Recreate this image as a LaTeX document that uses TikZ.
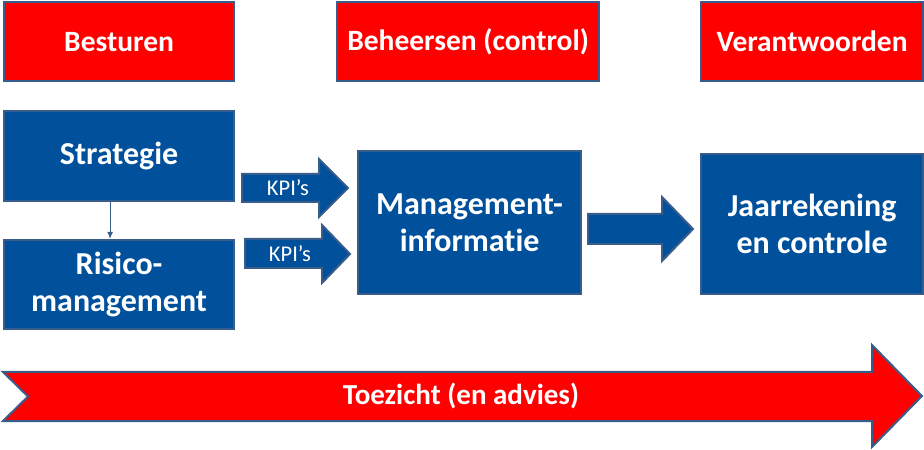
\documentclass[tikz,border=0pt]{standalone}
\usepackage{fontspec}
\setmainfont{Carlito}[Ligatures=NoCommon]
\usetikzlibrary{arrows.meta}
\definecolor{redbox}{RGB}{255,0,0}
\definecolor{bluebox}{RGB}{0,80,155}
\definecolor{edgeblue}{RGB}{56,93,138}
\tikzset{
  redhead/.style={fill=redbox, draw=edgeblue, line width=2.2bp, anchor=north west, inner sep=0pt,
    text=white, font=\fontsize{29.5bp}{34bp}\selectfont\bfseries, align=center},
  bluebox/.style={fill=bluebox, draw=edgeblue, line width=2.2bp, anchor=north west, inner sep=0pt,
    text=white, font=\fontsize{32bp}{37bp}\selectfont\bfseries, align=center},
  fatarrow/.style={fill=bluebox, draw=edgeblue, line width=2bp, line join=miter},
  redarrow/.style={fill=redbox, draw=edgeblue, line width=2bp, line join=miter},
  kpitext/.style={text=white, font=\fontsize{22.5bp}{25bp}\selectfont, inner sep=0pt},
  bigtext/.style={text=white, font=\fontsize{29bp}{33bp}\selectfont\bfseries, inner sep=0pt},
}
\begin{document}
\begin{tikzpicture}[x=1bp, y=-1bp]
\useasboundingbox (0,0) rectangle (924,450);
% top red boxes
\node[redhead, minimum width=230bp, minimum height=79bp] (besturen) at (3,1) {Besturen};
\node[redhead, minimum width=262bp, minimum height=79bp] (beheersen) at (336,1) {Beheersen (control)};
\node[redhead, minimum width=222bp, minimum height=79bp] (verant) at (700,1) {Verantwoorden};
% blue boxes
\node[bluebox, minimum width=230bp, minimum height=90bp] (strategie) at (3,110) {Strategie};
\node[bluebox, minimum width=230bp, minimum height=89bp] (risico) at (3,239) {Risico-\\management};
\node[bluebox, minimum width=223bp, minimum height=143bp] (mgmt) at (357,150) {Management-\\informatie};
\node[bluebox, minimum width=222bp, minimum height=140bp] (jaar) at (700,153) {Jaarrekening\\en controle};
% connector
\coordinate (cs) at ([xshift=-9bp]strategie.south);
\draw[edgeblue, line width=1.2bp, -{Latex[length=7bp,width=6bp]}] (cs) -- (cs |- risico.north);
% KPI arrows
\draw[fatarrow] (242,174) -- (319,174) -- (319,159) -- (348,188) -- (319,217) -- (319,202) -- (242,202) -- cycle;
\node[kpitext] (kpi1) at (288,188) {KPI’s};
\draw[fatarrow] (245,239) -- (322,239) -- (322,225) -- (350,254) -- (322,283) -- (322,268) -- (245,268) -- cycle;
\node[kpitext] (kpi2) at (290,254) {KPI’s};
% middle arrow
\draw[fatarrow] (588,214) -- (662,214) -- (662,197) -- (693,229) -- (662,261) -- (662,244) -- (588,244) -- cycle;
% bottom arrow
\draw[redarrow] (3,372) -- (872,372) -- (872,345) -- (922,396) -- (872,447) -- (872,421) -- (3,421) -- (28,396.5) -- cycle;
\node[bigtext] (toezicht) at (461,396) {Toezicht (en advies)};
\end{tikzpicture}
\end{document}
